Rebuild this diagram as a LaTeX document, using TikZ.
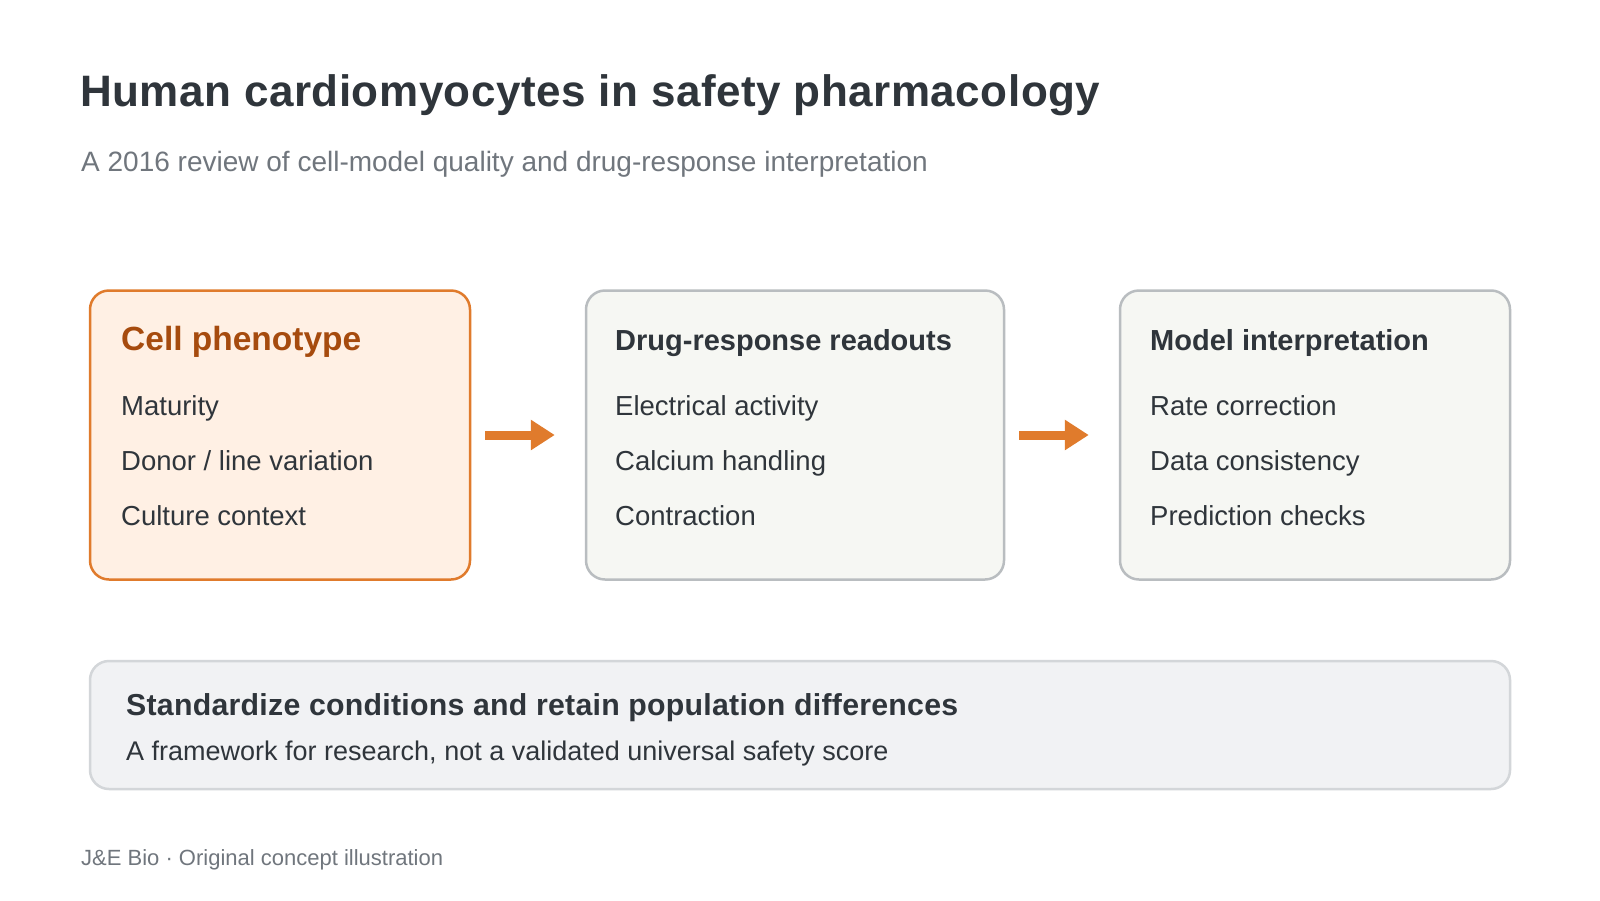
\documentclass[tikz,border=0pt]{standalone}
\usepackage{fontspec}
\setmainfont{Liberation Sans}
\usetikzlibrary{arrows.meta}
\definecolor{ink}{RGB}{47, 53, 59}
\definecolor{slate}{RGB}{112, 118, 125}
\definecolor{carrot}{RGB}{224, 123, 44}
\definecolor{rust}{RGB}{166, 75, 14}
\definecolor{peach}{RGB}{255, 240, 228}
\definecolor{chalk}{RGB}{246, 247, 243}
\definecolor{pebble}{RGB}{185, 189, 192}
\definecolor{mist}{RGB}{241, 242, 244}
\definecolor{fog}{RGB}{211, 214, 217}
\tikzset{
  card/.style={draw=pebble, fill=chalk, line width=2.5pt, rounded corners=19pt, minimum height=289pt, inner sep=0pt},
  hotcard/.style={card, draw=carrot, fill=peach},
  cardhead/.style={anchor=base west, inner sep=0pt, text=ink, font=\fontsize{29}{34}\selectfont\bfseries},
  carditem/.style={anchor=base west, inner sep=0pt, text=ink, font=\fontsize{27.5}{33}\selectfont},
  flow/.style={draw=carrot, line width=9pt, -{Triangle[length=24pt,width=29pt]}, shorten <=14pt, shorten >=30pt}
}
\begin{document}
\begin{tikzpicture}[x=1pt, y=-1pt]
            \useasboundingbox[fill=white] (0,0) rectangle (1600,900);
            % heading
            \node[anchor=base west, inner sep=0pt, text=ink, font=\fontsize{44}{52}\selectfont\bfseries\addfontfeatures{LetterSpace=1.2}] (title) at (80,106) {Human cardiomyocytes in safety pharmacology};
            \node[anchor=base west, inner sep=0pt, text=slate, font=\fontsize{28}{33}\selectfont] (subtitle) at (81,171) {A 2016 review of cell-model quality and drug-response interpretation};
            % three stages
            \node[hotcard, minimum width=380pt] (pheno)  at ( 280,435) {};
            \node[card,    minimum width=418pt] (readout) at ( 795,435) {};
            \node[card,    minimum width=390pt] (interp) at (1315,435) {};
            \node[cardhead, text=rust, font=\fontsize{33.5}{40}\selectfont\bfseries] (phenohead) at (121,350) {Cell phenotype};
            \node[carditem] (pheno1) at (121,415) {Maturity};
            \node[carditem] (pheno2) at (121,470) {Donor / line variation};
            \node[carditem] (pheno3) at (121,525) {Culture context};
            \node[cardhead] (readouthead) at (615,350) {Drug-response readouts};
            \node[carditem] (readout1) at (615,415) {Electrical activity};
            \node[carditem] (readout2) at (615,470) {Calcium handling};
            \node[carditem] (readout3) at (615,525) {Contraction};
            \node[cardhead] (interphead) at (1150,350) {Model interpretation};
            \node[carditem] (interp1) at (1150,415) {Rate correction};
            \node[carditem] (interp2) at (1150,470) {Data consistency};
            \node[carditem] (interp3) at (1150,525) {Prediction checks};
            \draw[flow] (pheno.east)   -- (readout.west);
            \draw[flow] (readout.east) -- (interp.west);
            % summary strip
            \node[card, draw=fog, fill=mist, minimum width=1420pt, minimum height=128pt] (summary) at (800,725) {};
            \node[cardhead, font=\fontsize{30.3}{35}\selectfont\bfseries\addfontfeatures{LetterSpace=0.8}] (summaryhead) at (126,715) {Standardize conditions and retain population differences};
            \node[carditem, font=\fontsize{27}{31}\selectfont] (summarynote) at (126,760) {A framework for research, not a validated universal safety score};
            % footer
            \node[anchor=base west, inner sep=0pt, text=slate, font=\fontsize{22}{26}\selectfont] (credit) at (81,865) {J\&E Bio · Original concept illustration};
        \end{tikzpicture}
\end{document}
